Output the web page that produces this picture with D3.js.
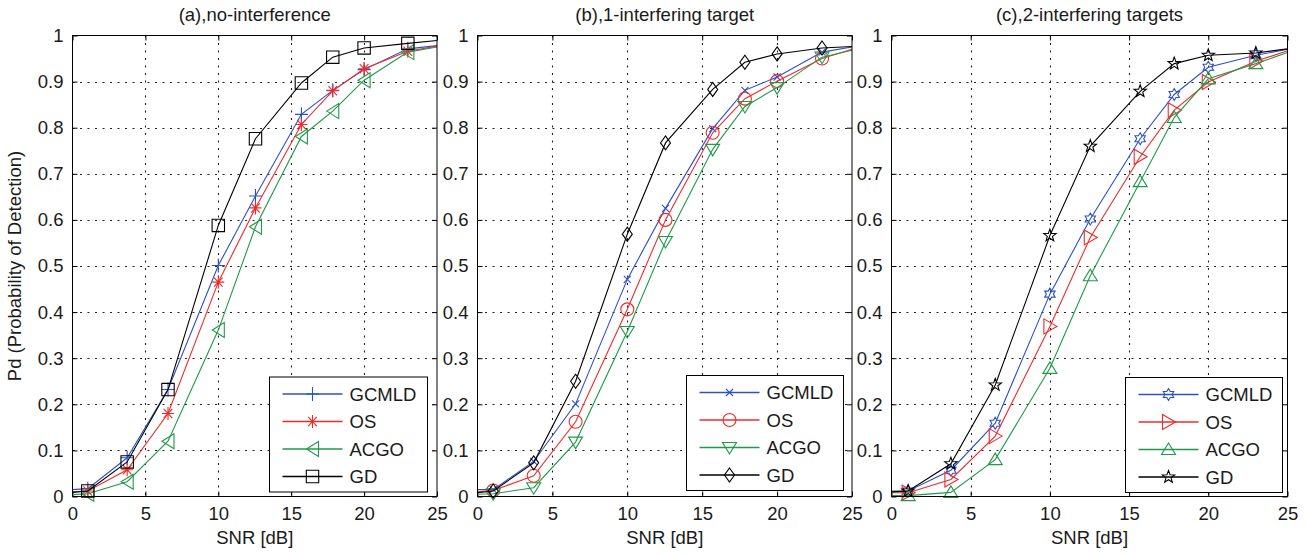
<!DOCTYPE html>
<html>
<head>
<meta charset="utf-8">
<script src="https://cdn.jsdelivr.net/npm/d3@7/dist/d3.min.js"></script>
<style>
  html, body { margin: 0; padding: 0; background: #fff; }
  svg { display: block; font-family: "Liberation Sans", Arial, Helvetica, sans-serif; }
  .tick text { font-size: 18.5px; fill: #1a1a1a; }
</style>
</head>
<body>
<svg id="chart" width="1308" height="554"></svg>
<script>
// SNR points (dB) shared by every curve; first and last are line ends without markers
var snr = [0, 1.05, 3.75, 6.55, 10, 12.55, 15.7, 17.85, 20, 23, 25];

var seriesNames = ["GCMLD", "OS", "ACGO", "GD"];
var panelTitles = ["(a),no-interference", "(b),1-interfering target", "(c),2-interfering targets"];
var xTicks = [0, 5, 10, 15, 20, 25];
var yTicks = [0, 0.1, 0.2, 0.3, 0.4, 0.5, 0.6, 0.7, 0.8, 0.9, 1];

// (a) no interference
var pdA_GCMLD = [0.015, 0.017, 0.084, 0.232, 0.501, 0.652, 0.829, 0.881, 0.926, 0.971, 0.978];
var pdA_OS    = [0.010, 0.012, 0.058, 0.180, 0.465, 0.626, 0.807, 0.880, 0.928, 0.966, 0.977];
var pdA_ACGO  = [0.004, 0.006, 0.032, 0.120, 0.361, 0.585, 0.781, 0.836, 0.903, 0.964, 0.975];
var pdA_GD    = [0.009, 0.012, 0.075, 0.232, 0.588, 0.776, 0.897, 0.953, 0.973, 0.983, 0.989];

// (b) 1 interfering target
var pdB_GCMLD = [0.015, 0.015, 0.076, 0.201, 0.471, 0.625, 0.798, 0.881, 0.910, 0.964, 0.975];
var pdB_OS    = [0.010, 0.013, 0.045, 0.162, 0.406, 0.600, 0.789, 0.863, 0.901, 0.950, 0.970];
var pdB_ACGO  = [0.005, 0.006, 0.019, 0.118, 0.358, 0.553, 0.753, 0.846, 0.887, 0.953, 0.968];
var pdB_GD    = [0.008, 0.012, 0.073, 0.250, 0.569, 0.767, 0.883, 0.942, 0.960, 0.973, 0.976];

// (c) 2 interfering targets
var pdC_GCMLD = [0.012, 0.012, 0.057, 0.159, 0.439, 0.602, 0.776, 0.872, 0.931, 0.957, 0.970];
var pdC_OS    = [0.008, 0.008, 0.037, 0.131, 0.369, 0.562, 0.737, 0.838, 0.899, 0.944, 0.967];
var pdC_ACGO  = [0.002, 0.002, 0.009, 0.080, 0.278, 0.479, 0.683, 0.822, 0.906, 0.939, 0.963];
var pdC_GD    = [0.010, 0.012, 0.071, 0.242, 0.566, 0.760, 0.879, 0.939, 0.957, 0.962, 0.971];

var panelData = [
  [pdA_GCMLD, pdA_OS, pdA_ACGO, pdA_GD],
  [pdB_GCMLD, pdB_OS, pdB_ACGO, pdB_GD],
  [pdC_GCMLD, pdC_OS, pdC_ACGO, pdC_GD]
];

// marker type per panel, per series
var panelMarkers = [
  ["plus", "asterisk", "triLeft", "square"],
  ["cross", "circle", "triDown", "diamond"],
  ["hexagram", "triRight", "triUp", "pentagram"]
];

var colors = ["#2d4fc8", "#f02a2a", "#1f9a48", "#000000"];

// layout
var yTop = 35.5, yBottom = 496.5;
var panels = [
  {x0: 72.5, x1: 437, legend: {x: 269.5, y: 377, w: 158, h: 115}},
  {x0: 477.5, x1: 852, legend: {x: 686.5, y: 375.5, w: 157, h: 115}},
  {x0: 891.5, x1: 1287.5, legend: {x: 1125.5, y: 377.5, w: 157, h: 115}}
];

function starPath(points, rOut, rIn) {
  var p = [];
  for (var i = 0; i < points * 2; i++) {
    var r = i % 2 === 0 ? rOut : rIn;
    var a = -Math.PI / 2 + i * Math.PI / points;
    p.push([r * Math.cos(a), r * Math.sin(a)]);
  }
  return "M" + p.map(function (d) { return d[0].toFixed(2) + "," + d[1].toFixed(2); }).join("L") + "Z";
}

function markerPath(type) {
  switch (type) {
    case "plus": return "M-6.5,0H6.5M0,-7V7";
    case "asterisk": return "M-6,0H6M0,-6.5V6.5M-4.3,-4.6L4.3,4.6M-4.3,4.6L4.3,-4.6";
    case "triLeft": return "M-6,0L6,-7.5L6,7.5Z";
    case "square": return "M-6.2,-6.2H6.2V6.2H-6.2Z";
    case "cross": return "M-3.5,-3.5L3.5,3.5M-3.5,3.5L3.5,-3.5";
    case "circle": return "M-6.5,0A6.5,6.5 0 1,0 6.5,0A6.5,6.5 0 1,0 -6.5,0Z";
    case "triDown": return "M-7,-5L7,-5L0,6.5Z";
    case "diamond": return "M0,-7L5,0L0,7L-5,0Z";
    case "hexagram": return starPath(6, 6, 3.5);
    case "triRight": return "M7,0L-6,-7.5L-6,7.5Z";
    case "triUp": return "M0,-6.5L7,5L-7,5Z";
    case "pentagram": return starPath(5, 6.5, 2.7);
  }
}

var svg = d3.select("#chart");
var fmt = d3.format("~g");

panels.forEach(function (p, pi) {
  var x = d3.scaleLinear().domain([0, 25]).range([p.x0, p.x1]);
  var y = d3.scaleLinear().domain([0, 1]).range([yBottom, yTop]);
  var g = svg.append("g");

  // dotted grid
  g.append("g").selectAll("line").data(xTicks.slice(1, -1)).join("line")
    .attr("x1", function (d) { return Math.round(x(d)) + 0.5; })
    .attr("x2", function (d) { return Math.round(x(d)) + 0.5; })
    .attr("y1", yTop).attr("y2", yBottom)
    .attr("stroke", "#222").attr("stroke-width", 1.1).attr("stroke-dasharray", "2,5.5");
  g.append("g").selectAll("line").data(yTicks.slice(1, -1)).join("line")
    .attr("y1", function (d) { return Math.round(y(d)) + 0.5; })
    .attr("y2", function (d) { return Math.round(y(d)) + 0.5; })
    .attr("x1", p.x0).attr("x2", p.x1)
    .attr("stroke", "#222").attr("stroke-width", 1.1).attr("stroke-dasharray", "2,5.5");

  // axes, ticks pointing inwards like MATLAB
  var ax = g.append("g").attr("transform", "translate(0," + yBottom + ")")
    .call(d3.axisBottom(x).tickValues(xTicks).tickFormat(fmt).tickSizeInner(-5).tickSizeOuter(0).tickPadding(10));
  var ay = g.append("g").attr("transform", "translate(" + p.x0 + ",0)")
    .call(d3.axisLeft(y).tickValues(yTicks).tickFormat(fmt).tickSizeInner(-5).tickSizeOuter(0).tickPadding(9));
  var at = g.append("g").attr("transform", "translate(0," + yTop + ")")
    .call(d3.axisTop(x).tickValues(xTicks).tickFormat("").tickSizeInner(-5).tickSizeOuter(0));
  var ar = g.append("g").attr("transform", "translate(" + p.x1 + ",0)")
    .call(d3.axisRight(y).tickValues(yTicks).tickFormat("").tickSizeInner(-5).tickSizeOuter(0));
  [ax, ay, at, ar].forEach(function (a) {
    a.select(".domain").remove();
    a.attr("font-family", null).attr("font-size", null);
    a.selectAll(".tick line").attr("stroke", "#000");
  });

  // curves
  var line = d3.line()
    .x(function (d) { return x(d[0]); })
    .y(function (d) { return y(d[1]); });

  panelData[pi].forEach(function (vals, si) {
    var pts = snr.map(function (s, i) { return [s, vals[i]]; });
    g.append("path").datum(pts)
      .attr("d", line)
      .attr("fill", "none")
      .attr("stroke", colors[si])
      .attr("stroke-width", 1.1);
    g.append("g").selectAll("path").data(pts.filter(function (d) { return d[0] > 0 && d[0] < 25; }))
      .join("path")
      .attr("transform", function (d) { return "translate(" + x(d[0]) + "," + y(d[1]) + ")"; })
      .attr("d", markerPath(panelMarkers[pi][si]))
      .attr("fill", "none")
      .attr("stroke", colors[si])
      .attr("stroke-width", 1.1);
  });

  // box
  g.append("rect")
    .attr("x", p.x0).attr("y", yTop)
    .attr("width", p.x1 - p.x0).attr("height", yBottom - yTop)
    .attr("fill", "none").attr("stroke", "#000").attr("stroke-width", 1);

  // title and x label
  g.append("text")
    .attr("x", (p.x0 + p.x1) / 2).attr("y", 21)
    .attr("text-anchor", "middle").attr("font-size", 18.5).attr("fill", "#1a1a1a")
    .text(panelTitles[pi]);
  g.append("text")
    .attr("x", (p.x0 + p.x1) / 2).attr("y", 544)
    .attr("text-anchor", "middle").attr("font-size", 18.5).attr("fill", "#1a1a1a")
    .text("SNR [dB]");

  // legend
  var L = p.legend;
  var lg = g.append("g").attr("transform", "translate(" + L.x + "," + L.y + ")");
  lg.append("rect").attr("width", L.w).attr("height", L.h)
    .attr("fill", "#fff").attr("stroke", "#000").attr("stroke-width", 1);
  seriesNames.forEach(function (name, si) {
    var ry = 17 + si * 27.5;
    lg.append("line").attr("x1", 13).attr("x2", 73).attr("y1", ry).attr("y2", ry)
      .attr("stroke", colors[si]).attr("stroke-width", 1.3);
    lg.append("path").attr("transform", "translate(43," + ry + ")")
      .attr("d", markerPath(panelMarkers[pi][si]))
      .attr("fill", "none").attr("stroke", colors[si]).attr("stroke-width", 1.1);
    lg.append("text").attr("x", 80).attr("y", ry).attr("dy", "0.36em")
      .attr("font-size", 18.5).attr("fill", "#1a1a1a").text(name);
  });
});

// shared y label
svg.append("text")
  .attr("transform", "translate(15," + (yTop + yBottom) / 2 + ") rotate(-90)")
  .attr("text-anchor", "middle").attr("dy", "0.35em")
  .attr("font-size", 18.5).attr("fill", "#1a1a1a")
  .text("Pd (Probability of Detection)");
</script>
</body>
</html>
